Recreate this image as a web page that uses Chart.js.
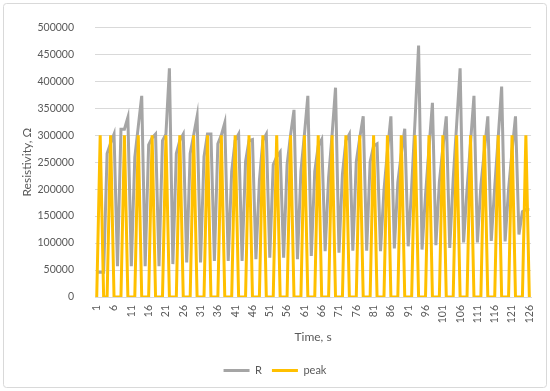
<!DOCTYPE html>
<html>
<head>
<meta charset="utf-8">
<script src="https://cdn.jsdelivr.net/npm/chart.js@4.4.1/dist/chart.umd.min.js"></script>
<style>
  html, body { margin: 0; padding: 0; background: #fff; }
  #wrap { width: 550px; height: 391px; }
</style>
</head>
<body>
<div id="wrap"><canvas id="myChart" width="550" height="391"></canvas></div>
<script>
// time, s
const timeLabels = [
  1, 2, 3, 4, 5, 6, 7, 8, 9, 10,
  11, 12, 13, 14, 15, 16, 17, 18, 19, 20,
  21, 22, 23, 24, 25, 26, 27, 28, 29, 30,
  31, 32, 33, 34, 35, 36, 37, 38, 39, 40,
  41, 42, 43, 44, 45, 46, 47, 48, 49, 50,
  51, 52, 53, 54, 55, 56, 57, 58, 59, 60,
  61, 62, 63, 64, 65, 66, 67, 68, 69, 70,
  71, 72, 73, 74, 75, 76, 77, 78, 79, 80,
  81, 82, 83, 84, 85, 86, 87, 88, 89, 90,
  91, 92, 93, 94, 95, 96, 97, 98, 99, 100,
  101, 102, 103, 104, 105, 106, 107, 108, 109, 110,
  111, 112, 113, 114, 115, 116, 117, 118, 119, 120,
  121, 122, 123, 124, 125, 126,
];

// resistivity R, Ohm
const rValues = [
  46000, 46000, 46000,
  266000, 285000, 302000, 57000,
  311000, 311000, 333000, 57000,
  259000, 316000, 373000, 57000,
  282000, 295000, 302000, 57000,
  290000, 302000, 424000, 61000,
  266000, 290000, 302000, 64000,
  266000, 300000, 335000, 64000,
  260000, 302000, 302000, 67000,
  284000, 300000, 323000, 67000,
  233000, 290000, 302000, 67000,
  251000, 290000, 292000, 70000,
  216000, 290000, 302000, 73000,
  245000, 260000, 269000, 73000,
  245000, 300000, 347000, 70000,
  233000, 300000, 373000, 76000,
  233000, 280000, 292000, 85000,
  222000, 300000, 388000, 82000,
  228000, 290000, 302000, 86000,
  251000, 295000, 335000, 86000,
  251000, 280000, 284000, 85000,
  198000, 270000, 335000, 90000,
  213000, 265000, 312000, 94000,
  204000, 330000, 466000, 88000,
  189000, 275000, 360000, 96000,
  213000, 275000, 335000, 91000,
  218000, 320000, 424000, 101000,
  200000, 285000, 373000, 101000,
  207000, 270000, 335000, 104000,
  204000, 295000, 390000, 103000,
  200000, 270000, 335000, 116000,
  158000, 162000, 162000,
];

// peak marker
const peakValues = [
  0, 300000, 0, 0,
  300000, 0, 0, 0,
  300000, 0, 0, 0,
  300000, 0, 0, 0,
  300000, 0, 0, 0,
  300000, 0, 0, 0,
  300000, 0, 0, 0,
  300000, 0, 0, 0,
  300000, 0, 0, 0,
  300000, 0, 0, 0,
  300000, 0, 0, 0,
  300000, 0, 0, 0,
  300000, 0, 0, 0,
  300000, 0, 0, 0,
  300000, 0, 0, 0,
  300000, 0, 0, 0,
  300000, 0, 0, 0,
  300000, 0, 0, 0,
  300000, 0, 0, 0,
  300000, 0, 0, 0,
  300000, 0, 0, 0,
  300000, 0, 0, 0,
  300000, 0, 0, 0,
  300000, 0, 0, 0,
  300000, 0, 0, 0,
  300000, 0, 0, 0,
  300000, 0, 0, 0,
  300000, 0, 0, 0,
  300000, 0, 0, 0,
  300000, 0, 0, 0,
  300000, 0, 0, 0,
  300000, 0,
];

const yTickValues = [0, 50000, 100000, 150000, 200000, 250000, 300000, 350000, 400000, 450000, 500000];
const xTickLabels = ["1", "6", "11", "16", "21", "26", "31", "36", "41", "46", "51", "56", "61",
  "66", "71", "76", "81", "86", "91", "96", "101", "106", "111", "116", "121", "126"];

const textColor = "#595959";
const gridColor = "#d9d9d9";
const fontFamily = "Lato, 'Open Sans', sans-serif";

// white background and the thin frame round the whole chart
const frame = {
  id: "frame",
  beforeDraw(chart) {
    const c = chart.ctx;
    c.save();
    c.fillStyle = "#fff";
    c.fillRect(0, 0, chart.width, chart.height);
    c.strokeStyle = gridColor;
    c.lineWidth = 1;
    c.beginPath();
    c.roundRect(3.5, 3.5, 543, 384, 3);
    c.stroke();
    c.restore();
  },
};

const ctx = document.getElementById("myChart").getContext("2d");
const myChart = new Chart(ctx, {
  type: "line",
  data: {
    labels: timeLabels,
    datasets: [
      {
        label: "peak",
        data: peakValues,
        borderColor: "#ffc000",
        backgroundColor: "#ffc000",
        borderWidth: 3,
        pointRadius: 0,
        tension: 0,
      },
      {
        label: "R",
        data: rValues,
        borderColor: "#a5a5a5",
        backgroundColor: "#a5a5a5",
        borderWidth: 3,
        pointRadius: 0,
        tension: 0,
      },
    ],
  },
  options: {
    responsive: false,
    animation: false,
    devicePixelRatio: 1,
    layout: {
      padding: { left: 17, right: 17, top: 17, bottom: 5 },
    },
    scales: {
      x: {
        offset: true,
        grid: { display: false, drawTicks: false },
        border: { display: true, color: gridColor },
        ticks: {
          autoSkip: false,
          minRotation: 90,
          maxRotation: 90,
          padding: 8,
          color: textColor,
          font: { family: fontFamily, size: 10.5 },
          callback: function (value) {
            const lbl = String(this.getLabelForValue(value));
            return xTickLabels.includes(lbl) ? lbl : "";
          },
        },
        title: {
          display: true,
          text: "Time, s",
          color: textColor,
          font: { family: fontFamily, size: 12 },
          padding: { top: 0, bottom: 11 },
        },
        afterFit: (scale) => {
          scale.height = 58;
        },
      },
      y: {
        min: 0,
        max: 500000,
        afterBuildTicks: (scale) => {
          scale.ticks = yTickValues.map((v) => ({ value: v }));
        },
        grid: { color: gridColor, drawTicks: false },
        border: { display: false },
        ticks: {
          padding: 21,
          color: textColor,
          font: { family: fontFamily, size: 10.5 },
          callback: (v) => String(v),
        },
        title: {
          display: true,
          text: "Resistivity, Ω",
          color: textColor,
          font: { family: fontFamily, size: 12 },
          padding: { top: 3, bottom: 0 },
        },
        afterFit: (scale) => {
          scale.width = 78;
        },
      },
    },
    plugins: {
      tooltip: { enabled: false },
      legend: {
        position: "bottom",
        reverse: true,
        labels: {
          usePointStyle: true,
          pointStyle: "line",
          pointStyleWidth: 26,
          padding: 10,
          color: textColor,
          font: { family: fontFamily, size: 11 },
        },
      },
    },
  },
  plugins: [frame],
});
</script>
</body>
</html>
